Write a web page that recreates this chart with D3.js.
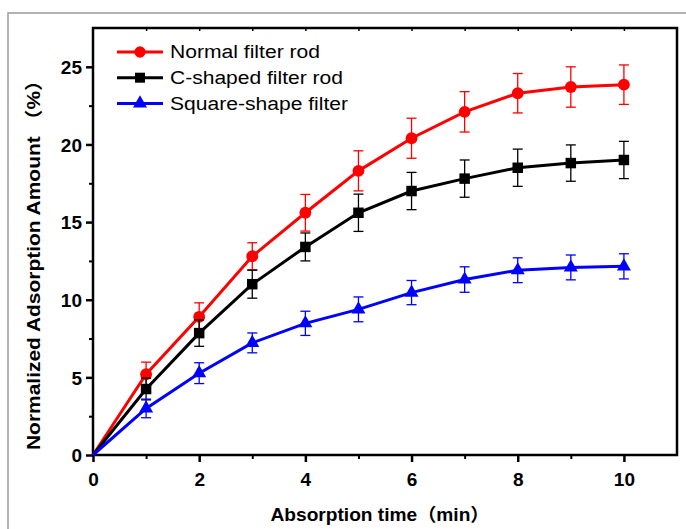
<!DOCTYPE html>
<html>
<head>
<meta charset="utf-8">
<script src="https://cdn.jsdelivr.net/npm/d3@7"></script>
<style>
  body { margin: 0; background: #fff; }
  text { font-family: "Liberation Sans", Arial, "Noto Sans CJK SC", sans-serif; }
</style>
</head>
<body>
<div id="chart"></div>
<script>
// values
const times = [0, 1, 2, 3, 4, 5, 6, 7, 8, 9, 10];
const normalRod = [0, 5.2, 8.9, 12.8, 15.6, 18.3, 20.4, 22.1, 23.3, 23.7, 23.85];
const normalErr = [0, 0.78, 0.9, 0.87, 1.18, 1.29, 1.29, 1.3, 1.27, 1.3, 1.27];
const cShapedRod = [0, 4.25, 7.85, 11.0, 13.4, 15.6, 17.0, 17.8, 18.5, 18.8, 19.0];
const cShapedErr = [0, 0.7, 0.85, 0.9, 0.9, 1.2, 1.2, 1.2, 1.2, 1.17, 1.2];
const squareFilter = [0, 3.0, 5.27, 7.22, 8.48, 9.38, 10.46, 11.3, 11.9, 12.08, 12.15];
const squareErr = [0, 0.6, 0.67, 0.64, 0.78, 0.8, 0.78, 0.82, 0.8, 0.8, 0.81];
const xTicks = [0, 2, 4, 6, 8, 10];
const yTicks = [0, 5, 10, 15, 20, 25];

const series = [
  { name: "Normal filter rod", values: normalRod, err: normalErr, color: "#ff0000", shape: d3.symbolCircle, len: 150 },
  { name: "C-shaped filter rod", values: cShapedRod, err: cShapedErr, color: "#000000", shape: d3.symbolSquare, len: 173 },
  { name: "Square-shape filter", values: squareFilter, err: squareErr, color: "#0000ff", shape: d3.symbolTriangle, len: 178 }
];

const W = 686, H = 529;
const margin = { top: 28, left: 93, right: 9, bottom: 74 };
const width = W - margin.left - margin.right;
const height = H - margin.top - margin.bottom;

const root = d3.select("#chart").append("svg")
  .attr("width", W)
  .attr("height", H);

// grey outer frame
root.append("rect")
  .attr("x", 8).attr("y", 13)
  .attr("width", 700).attr("height", 560)
  .attr("fill", "none")
  .attr("stroke", "#9a9a9a")
  .attr("stroke-width", 1.5);

const svg = root.append("g")
  .attr("transform", `translate(${margin.left},${margin.top})`);

const x = d3.scaleLinear().domain([0, 11]).range([0, width]);
const y = d3.scaleLinear().domain([0, 27.5]).range([height, 0]);

// minor ticks
svg.append("g")
  .attr("transform", `translate(0,${height})`)
  .call(d3.axisBottom(x).tickValues(d3.range(1, 11, 2)).tickSize(4).tickFormat(""))
  .call(g => g.select(".domain").remove())
  .selectAll("line").attr("stroke-width", 2);
svg.append("g")
  .call(d3.axisLeft(y).tickValues([2.5, 7.5, 12.5, 17.5, 22.5]).tickSize(4).tickFormat(""))
  .call(g => g.select(".domain").remove())
  .selectAll("line").attr("stroke-width", 2);
svg.append("g")
  .call(d3.axisTop(x).tickValues(d3.range(1, 11)).tickSize(-3).tickFormat(""))
  .call(g => g.select(".domain").remove())
  .selectAll("line").attr("stroke-width", 1.5);

// x-axis
const xAxis = svg.append("g")
  .attr("transform", `translate(0,${height})`)
  .call(d3.axisBottom(x).tickValues(xTicks).tickSize(7).tickPadding(11).tickSizeOuter(0));
xAxis.selectAll("line").attr("stroke-width", 2.5);
xAxis.selectAll("text")
  .style("font-size", "19px").style("font-weight", "bold")
  .attr("fill", "#000");

// y-axis
const yAxis = svg.append("g")
  .call(d3.axisLeft(y).tickValues(yTicks).tickSize(7).tickPadding(4).tickSizeOuter(0));
yAxis.selectAll("line").attr("stroke-width", 2.5);
yAxis.selectAll("text")
  .attr("dy", "0.35em")
  .style("font-size", "19px").style("font-weight", "bold")
  .attr("fill", "#000");
svg.selectAll(".domain").remove();

// plot frame
svg.append("rect")
  .attr("width", width).attr("height", height)
  .attr("fill", "none")
  .attr("stroke", "#000")
  .attr("stroke-width", 2.5);

// axis labels
root.append("text")
  .attr("x", 380)
  .attr("y", 521)
  .attr("text-anchor", "middle")
  .attr("textLength", 219)
  .attr("lengthAdjust", "spacingAndGlyphs")
  .style("font-size", "18px").style("font-weight", "bold")
  .text("Absorption time（min）");

root.append("text")
  .attr("transform", "translate(40,260) rotate(-90)")
  .attr("text-anchor", "middle")
  .attr("textLength", 380)
  .attr("lengthAdjust", "spacingAndGlyphs")
  .style("font-size", "18px").style("font-weight", "bold")
  .text("Normalized Adsorption Amount （%）");

// lines, error bars, markers
const line = d3.line()
  .x((d, i) => x(times[i]))
  .y(d => y(d));

series.forEach(s => {
  const pts = times.map((t, i) => ({ t: t, v: s.values[i], e: s.err[i] })).filter(p => p.t > 0);

  const eb = svg.append("g")
    .attr("stroke", s.color)
    .attr("stroke-width", 1.3);
  eb.selectAll(".bar").data(pts).join("line")
    .attr("x1", d => x(d.t)).attr("x2", d => x(d.t))
    .attr("y1", d => y(d.v + d.e)).attr("y2", d => y(d.v - d.e));
  eb.selectAll(".capTop").data(pts).join("line")
    .attr("x1", d => x(d.t) - 5).attr("x2", d => x(d.t) + 5)
    .attr("y1", d => y(d.v + d.e)).attr("y2", d => y(d.v + d.e));
  eb.selectAll(".capBot").data(pts).join("line")
    .attr("x1", d => x(d.t) - 5).attr("x2", d => x(d.t) + 5)
    .attr("y1", d => y(d.v - d.e)).attr("y2", d => y(d.v - d.e));

  svg.append("path")
    .datum(s.values)
    .attr("fill", "none")
    .attr("stroke", s.color)
    .attr("stroke-width", 3)
    .attr("d", line);

  svg.append("g").selectAll("path").data(pts).join("path")
    .attr("transform", d => `translate(${x(d.t)},${y(d.v)})`)
    .attr("d", d3.symbol().type(s.shape).size(s.shape === d3.symbolTriangle ? 85 : 110))
    .attr("fill", s.color);
});

// legend
const legend = root.append("g")
  .attr("transform", "translate(117,52)");
series.forEach((s, i) => {
  const row = legend.append("g").attr("transform", `translate(0,${i * 25.7})`);
  row.append("line")
    .attr("x1", 0).attr("x2", 46)
    .attr("stroke", s.color).attr("stroke-width", 3);
  row.append("path")
    .attr("transform", "translate(23,0)")
    .attr("d", d3.symbol().type(s.shape).size(s.shape === d3.symbolTriangle ? 85 : 100))
    .attr("fill", s.color);
  row.append("text")
    .attr("x", 53).attr("y", 0)
    .attr("dy", "0.36em")
    .attr("textLength", s.len)
    .attr("lengthAdjust", "spacingAndGlyphs")
    .style("font-size", "18px")
    .text(s.name);
});
</script>
</body>
</html>
